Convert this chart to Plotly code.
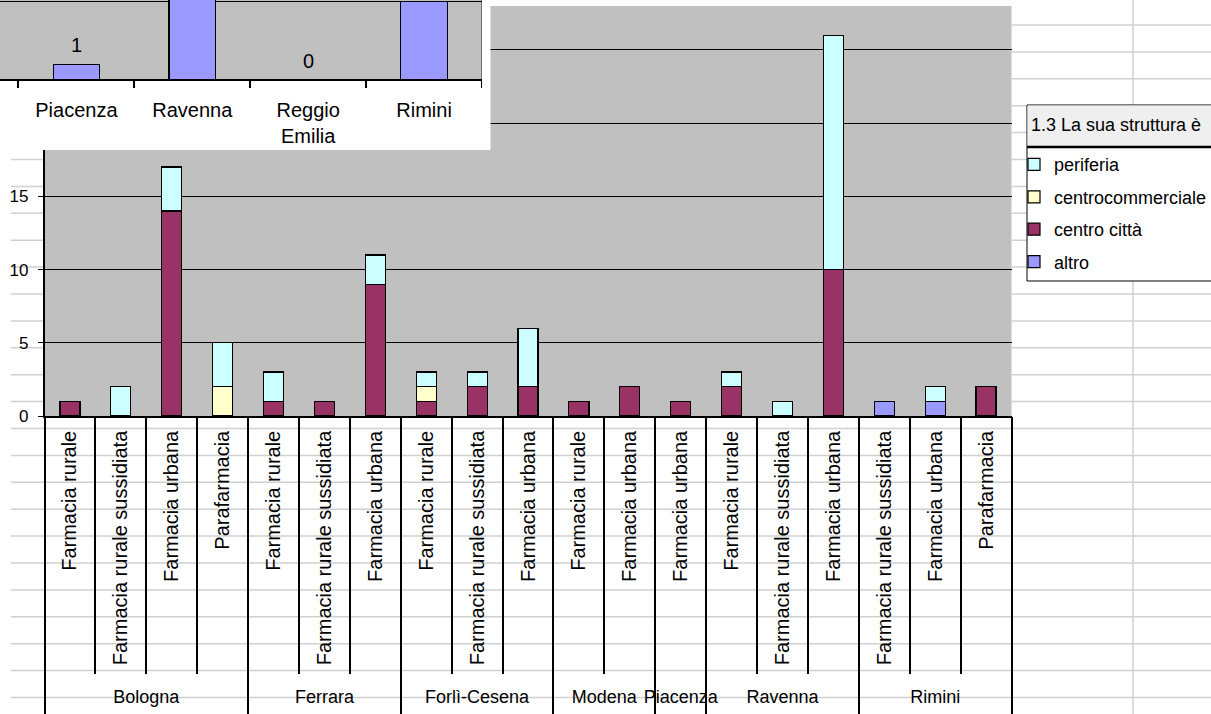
import plotly.graph_objects as go

W, H = 1211, 714

# ---------------- data: main chart ----------------
provinces = ["Bologna", "Bologna", "Bologna", "Bologna",
             "Ferrara", "Ferrara", "Ferrara",
             "Forlì-Cesena", "Forlì-Cesena", "Forlì-Cesena",
             "Modena", "Modena",
             "Piacenza",
             "Ravenna", "Ravenna", "Ravenna",
             "Rimini", "Rimini", "Rimini"]
types = ["Farmacia rurale", "Farmacia rurale sussidiata", "Farmacia urbana", "Parafarmacia",
         "Farmacia rurale", "Farmacia rurale sussidiata", "Farmacia urbana",
         "Farmacia rurale", "Farmacia rurale sussidiata", "Farmacia urbana",
         "Farmacia rurale", "Farmacia urbana",
         "Farmacia urbana",
         "Farmacia rurale", "Farmacia rurale sussidiata", "Farmacia urbana",
         "Farmacia rurale sussidiata", "Farmacia urbana", "Parafarmacia"]
altro             = [0, 0, 0, 0, 0, 0, 0, 0, 0, 0, 0, 0, 0, 0, 0, 0, 1, 1, 0]
centro_citta      = [1, 0, 14, 0, 1, 1, 9, 1, 2, 2, 1, 2, 1, 2, 0, 10, 0, 0, 2]
centrocommerciale = [0, 0, 0, 2, 0, 0, 0, 1, 0, 0, 0, 0, 0, 0, 0, 0, 0, 0, 0]
periferia         = [0, 2, 3, 3, 2, 0, 2, 1, 1, 4, 0, 0, 0, 1, 1, 16, 0, 1, 0]
y_ticks = [0, 5, 10, 15, 20, 25]
legend_title = "1.3 La sua struttura è"

# ---------------- data: inset chart ----------------
inset_provinces = ["Piacenza", "Ravenna", "Reggio Emilia", "Rimini"]
inset_values = [1, 30, 0, 5]

FONT = "Liberation Sans, Arial, sans-serif"


def fx(p):
    return p / W


def fy(p):
    return 1 - p / H


fig = go.Figure()

x_idx = list(range(len(types)))
series = [("altro", altro, "#9999FF", 4),
          ("centro città", centro_citta, "#993366", 3),
          ("centrocommerciale", centrocommerciale, "#FFFFCC", 2),
          ("periferia", periferia, "#CCFFFF", 1)]
for name, vals, col, rank in series:
    fig.add_trace(go.Bar(x=x_idx, y=vals, name=name, legendgroup=name, legendrank=rank,
                         marker=dict(color=col, line=dict(color="black", width=1.2)),
                         xaxis="x", yaxis="y", hoverinfo="skip"))

inset_labels = [p.replace(" ", "<br>") for p in inset_provinces]
fig.add_trace(go.Bar(x=inset_labels, y=inset_values, xaxis="x2", yaxis="y2",
                     width=0.4, showlegend=False, hoverinfo="skip",
                     marker=dict(color="#9999FF", line=dict(color="black", width=1.2))))

# empty helper trace so that the province-level axis (x3) gets drawn
fig.add_trace(go.Scatter(x=[None], y=[None], xaxis="x3", yaxis="y", mode="markers",
                         showlegend=False, hoverinfo="skip"))

# boundaries / group centers derived from the category lists
n = len(types)
inner_bounds = [i + 0.5 for i in range(-1, n)]
group_names, group_start = [], []
for i, p in enumerate(provinces):
    if i == 0 or p != provinces[i - 1]:
        group_names.append(p)
        group_start.append(i)
group_end = group_start[1:] + [n]
group_bounds = [s - 0.5 for s in group_start] + [n - 0.5]
group_centers = [(s + e - 1) / 2 for s, e in zip(group_start, group_end)]

# inset y scale
in_top, in_bot = 5.096, -4.459
in_xr = [-0.659, 3.5]

axfont = dict(family=FONT, size=20, color="black")

fig.update_layout(
    width=W, height=H, margin=dict(l=0, r=0, t=0, b=0, autoexpand=False),
    paper_bgcolor="white", plot_bgcolor="#C0C0C0",
    barmode="stack", bargap=0.607,
    font=dict(family=FONT, color="black"),
    showlegend=True,
    legend=dict(x=fx(1014), y=fy(115), xanchor="left", yanchor="top",
                bgcolor="rgba(0,0,0,0)", borderwidth=0,
                traceorder="grouped", tracegroupgap=6,
                font=dict(family=FONT, size=18, color="black"),
                title=dict(text="<span style='font-size:18px'>\u00a0\u00a0\u00a0" + legend_title
                                + "</span><br>\u00a0",
                           font=dict(family=FONT, size=12, color="black"))),
    xaxis=dict(domain=[fx(44.5), fx(1011.5)], anchor="y", range=[-0.5, n - 0.5],
               tickmode="array", tickvals=x_idx, ticktext=types, tickangle=-90,
               ticks="", tickfont=axfont, showgrid=False, zeroline=False,
               ticklabelstandoff=5,
               minor=dict(tickmode="array", tickvals=inner_bounds, ticks="outside",
                          ticklen=256, tickwidth=1.5, tickcolor="black", showgrid=False),
               showline=True, linecolor="black", linewidth=1.5),
    xaxis3=dict(overlaying="x", anchor="y", type="linear", range=[-0.5, n - 0.5],
                tickmode="array", tickvals=group_centers, ticktext=group_names,
                ticks="", tickfont=dict(family=FONT, size=18, color="black"),
                ticklabelstandoff=268,
                minor=dict(tickmode="array", tickvals=group_bounds, ticks="outside",
                           ticklen=300, tickwidth=1.5, tickcolor="black", showgrid=False),
                showgrid=False, zeroline=False, showline=False),
    yaxis=dict(domain=[fy(416), fy(6)], anchor="x", range=[0, 28],
               tickmode="array", tickvals=y_ticks, showgrid=True, gridcolor="black",
               gridwidth=1, zeroline=False, showline=True, linecolor="black",
               linewidth=1.5, ticks="outside", ticklen=5, tickcolor="black",
               tickfont=dict(family=FONT, size=17, color="black"), ticklabelstandoff=6),
    xaxis2=dict(domain=[0, fx(482)], anchor="free", position=fy(80), type="category",
                range=in_xr, tickson="boundaries", ticks="outside", ticklen=7,
                tickcolor="black", tickwidth=1.5, showline=True, linecolor="black",
                linewidth=1.5, showgrid=False, zeroline=False, tickfont=axfont,
                ticklabelstandoff=12),
    yaxis2=dict(domain=[fy(150), 1], anchor="x2", range=[in_bot, in_top],
                tickmode="array", tickvals=[5], showgrid=True, gridcolor="black",
                gridwidth=1, showticklabels=False, ticks="", showline=False,
                zeroline=False),
)

# inset data labels (only those that fall inside the visible part of the inset)
for lab, v in zip(inset_labels, inset_values):
    if v + 2.0 < in_top:
        fig.add_annotation(x=lab, y=v, xref="x2", yref="y2", text=str(v), showarrow=False,
                           yshift=19, font=dict(family=FONT, size=20, color="black"))

shapes = []
# spreadsheet grid lines (behind the chart)
GRID = "#D0D0D0"
k = 0
while True:
    yp = 25 + 26.9 * k
    if yp > H:
        break
    if yp > 416:
        segs = [(11, W)]
    elif yp > 6:
        segs = [(11, 44.5), (1011.5, W)]
    else:
        segs = []
    for a, b in segs:
        shapes.append(dict(type="line", xref="paper", yref="paper", x0=fx(a), x1=fx(b),
                           y0=fy(yp), y1=fy(yp), line=dict(color=GRID, width=1.5), layer="below"))
    k += 1
shapes.append(dict(type="line", xref="paper", yref="paper", x0=fx(1133), x1=fx(1133),
                   y0=0, y1=1, line=dict(color=GRID, width=1.5), layer="below"))
# legend box
shapes.append(dict(type="rect", xref="paper", yref="paper", x0=fx(1027), x1=fx(1213),
                   y0=fy(281), y1=fy(105), fillcolor="white",
                   line=dict(color="black", width=1), layer="below"))
shapes.append(dict(type="rect", xref="paper", yref="paper", x0=fx(1027.5), x1=fx(1213),
                   y0=fy(146), y1=fy(105.5), fillcolor="#EFEFEF",
                   line=dict(width=0), layer="below"))
shapes.append(dict(type="line", xref="paper", yref="paper", x0=fx(1027), x1=fx(1213),
                   y0=fy(147), y1=fy(147), line=dict(color="black", width=2.5), layer="below"))
# inset: white chart area below its plot area, right border of its plot area
shapes.append(dict(type="rect", xref="x2", yref="y2", x0=in_xr[0], x1=in_xr[1],
                   y0=in_bot, y1=0, fillcolor="white", line=dict(width=0), layer="below"))
shapes.append(dict(type="line", xref="x2", yref="y2", x0=in_xr[1], x1=in_xr[1],
                   y0=0, y1=in_top, line=dict(color="#707070", width=2), layer="below"))
shapes.append(dict(type="rect", xref="paper", yref="paper", x0=fx(482), x1=fx(490.5),
                   y0=fy(150), y1=1, fillcolor="white", line=dict(width=0), layer="above"))
fig.update_layout(shapes=shapes)

fig.write_html("out.html", config={"displayModeBar": False},
               post_script="document.body.style.margin='0px';"
                           "document.body.style.overflow='hidden';"
                           "document.getElementById('{plot_id}').style.overflow='hidden';")
